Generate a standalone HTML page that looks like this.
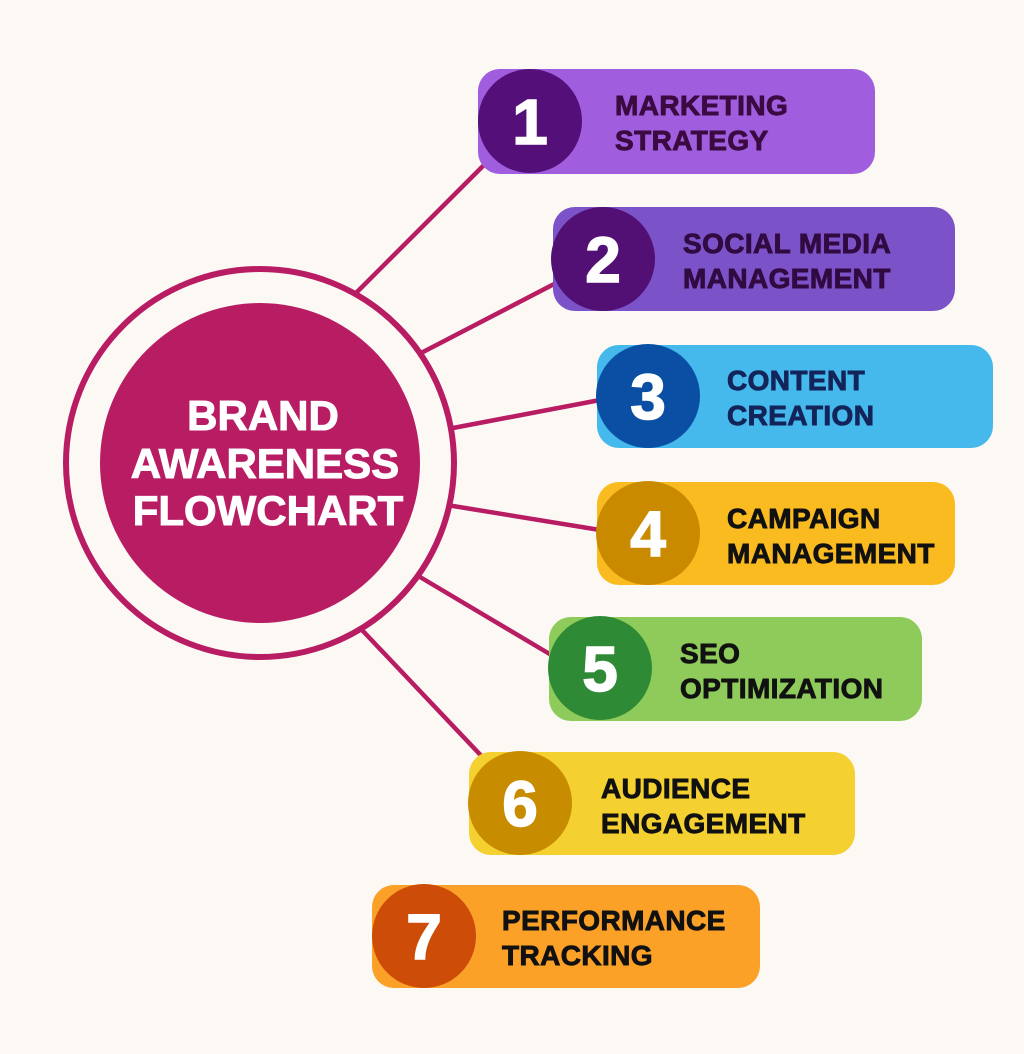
<!DOCTYPE html>
<html><head><meta charset="utf-8"><style>
html,body{margin:0;padding:0;background:#fcf9f5;}
svg{display:block}
text{font-family:"Liberation Sans",Arial,sans-serif;font-weight:bold}
.l{font-size:28px;letter-spacing:0.4px;stroke-width:0.9px;}
</style></head><body>
<svg width="1024" height="1054" viewBox="0 0 1024 1054" xmlns="http://www.w3.org/2000/svg">
<rect width="1024" height="1054" fill="#fcf9f5"/>
<g stroke="#b81c62" stroke-width="4.5" stroke-linecap="round">
<line x1="357" y1="292" x2="494" y2="155"/>
<line x1="423" y1="352" x2="558" y2="282"/>
<line x1="453" y1="428" x2="600" y2="400"/>
<line x1="453" y1="506" x2="600" y2="530"/>
<line x1="420" y1="577" x2="553" y2="656"/>
<line x1="362" y1="630" x2="490" y2="765"/>
</g>
<circle cx="260" cy="463" r="194" fill="#fcf9f5" stroke="#b81c62" stroke-width="6"/>
<circle cx="260" cy="463" r="160" fill="#b81c62"/>
<g fill="#fff" stroke="#fff" stroke-width="1" font-size="42" text-anchor="middle">
<text x="263" y="430">BRAND</text>
<text x="265" y="478">AWARENESS</text>
<text x="268" y="525">FLOWCHART</text>
</g>
<g>
<rect x="478" y="69" width="397" height="105" rx="22" fill="#a05ede"/>
<circle cx="530" cy="121" r="52" fill="#541078"/>
<text x="530" y="144" font-size="64" fill="#fff" stroke="#fff" stroke-width="1.5" text-anchor="middle">1</text>
<text class="l" x="615" y="115" fill="#3a0a40" stroke="#3a0a40">MARKETING</text>
<text class="l" x="615" y="150" fill="#3a0a40" stroke="#3a0a40">STRATEGY</text>

<rect x="553" y="207" width="402" height="104" rx="22" fill="#7b52c8"/>
<circle cx="603" cy="259" r="52" fill="#521075"/>
<text x="603" y="282" font-size="64" fill="#fff" stroke="#fff" stroke-width="1.5" text-anchor="middle">2</text>
<text class="l" x="683" y="253" fill="#300a40" stroke="#300a40">SOCIAL MEDIA</text>
<text class="l" x="683" y="288" fill="#300a40" stroke="#300a40">MANAGEMENT</text>

<rect x="597" y="345" width="396" height="103" rx="22" fill="#45b8ec"/>
<circle cx="648" cy="396" r="52" fill="#0a4fa3"/>
<text x="648" y="419" font-size="64" fill="#fff" stroke="#fff" stroke-width="1.5" text-anchor="middle">3</text>
<text class="l" x="727" y="390" fill="#13245a" stroke="#13245a">CONTENT</text>
<text class="l" x="727" y="425" fill="#13245a" stroke="#13245a">CREATION</text>

<rect x="597" y="482" width="358" height="103" rx="22" fill="#f9bb1f"/>
<circle cx="648" cy="533" r="52" fill="#c98a00"/>
<text x="648" y="556" font-size="64" fill="#fff" stroke="#fff" stroke-width="1.5" text-anchor="middle">4</text>
<text class="l" x="727" y="528" fill="#111" stroke="#111">CAMPAIGN</text>
<text class="l" x="727" y="563" fill="#111" stroke="#111">MANAGEMENT</text>

<rect x="549" y="617" width="373" height="104" rx="22" fill="#8ecb5a"/>
<circle cx="600" cy="668" r="52" fill="#2f8a36"/>
<text x="600" y="691" font-size="64" fill="#fff" stroke="#fff" stroke-width="1.5" text-anchor="middle">5</text>
<text class="l" x="680" y="663" fill="#111" stroke="#111">SEO</text>
<text class="l" x="680" y="698" fill="#111" stroke="#111">OPTIMIZATION</text>

<rect x="469" y="752" width="386" height="103" rx="22" fill="#f4d030"/>
<circle cx="520" cy="803" r="52" fill="#c88c00"/>
<text x="520" y="826" font-size="64" fill="#fff" stroke="#fff" stroke-width="1.5" text-anchor="middle">6</text>
<text class="l" x="601" y="798" fill="#111" stroke="#111">AUDIENCE</text>
<text class="l" x="601" y="833" fill="#111" stroke="#111">ENGAGEMENT</text>

<rect x="372" y="885" width="388" height="103" rx="22" fill="#fba127"/>
<circle cx="424" cy="936" r="52" fill="#cd4c08"/>
<text x="424" y="959" font-size="64" fill="#fff" stroke="#fff" stroke-width="1.5" text-anchor="middle">7</text>
<text class="l" x="502" y="930" fill="#111" stroke="#111">PERFORMANCE</text>
<text class="l" x="502" y="965" fill="#111" stroke="#111">TRACKING</text>
</g>
</svg>
</body></html>
